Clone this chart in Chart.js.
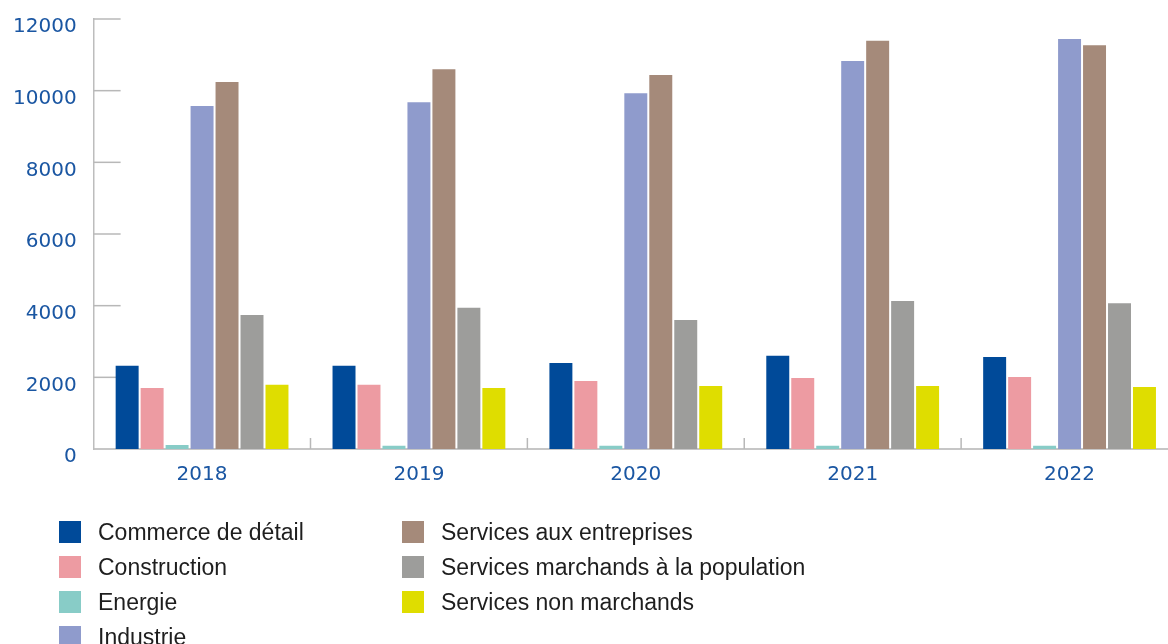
<!DOCTYPE html>
<html>
<head>
<meta charset="utf-8">
<script src="https://cdn.jsdelivr.net/npm/chart.js@4/dist/chart.umd.min.js"></script>
<style>
  html, body { margin: 0; padding: 0; background: #fff; overflow: hidden; }
  #wrap { position: relative; width: 1168px; height: 644px; overflow: hidden; }
  #chart { position: absolute; left: -4px; top: -10px; }
  #legend { position: absolute; left: 0; top: 0; font-family: "Liberation Sans", Arial, sans-serif; font-size: 23px; color: #1e1e1e; }
  .item { position: absolute; display: flex; align-items: center; height: 22px; white-space: nowrap; }
  .box { width: 22px; height: 22px; margin-right: 17px; }
</style>
</head>
<body>
<div id="wrap">
  <canvas id="chart" width="1182" height="654"></canvas>
  <div id="legend"></div>
</div>
<script>
const years = ["2018", "2019", "2020", "2021", "2022"];
const seriesNames = ["Commerce de détail", "Construction", "Energie", "Industrie",
  "Services aux entreprises", "Services marchands à la population", "Services non marchands"];
const commerce = [2320, 2320, 2400, 2600, 2570];
const construction = [1700, 1790, 1900, 1980, 2010];
const energie = [110, 90, 90, 90, 90];
const industrie = [9570, 9680, 9930, 10830, 11440];
const servEntreprises = [10240, 10600, 10440, 11390, 11270];
const servMarchands = [3740, 3940, 3600, 4130, 4070];
const nonMarchands = [1790, 1700, 1760, 1760, 1730];
const yTicks = [0, 2000, 4000, 6000, 8000, 10000, 12000];

const colors = ["#004a99", "#ed9ba2", "#88ccc7", "#8f9bcc", "#a58a7a", "#9d9d9b", "#dfdd00"];
const values = [commerce, construction, energie, industrie, servEntreprises, servMarchands, nonMarchands];
const blue = "#1a56a2";

// short grid stubs on the y axis + separators between years
const stubs = {
  id: "stubs",
  beforeDatasetsDraw(chart) {
    const { ctx, chartArea, scales: { x, y } } = chart;
    ctx.save();
    ctx.strokeStyle = "#b8b8b8";
    ctx.lineWidth = 1.5;
    yTicks.forEach(v => {
      if (v === 0) return;
      const py = y.getPixelForValue(v);
      ctx.beginPath();
      ctx.moveTo(chartArea.left, py);
      ctx.lineTo(chartArea.left + 27, py);
      ctx.stroke();
    });
    const w = x.width / years.length;
    for (let i = 1; i <= years.length; i++) {
      const px = x.left + i * w;
      ctx.beginPath();
      ctx.moveTo(px, chartArea.bottom);
      ctx.lineTo(px, chartArea.bottom - 11);
      ctx.stroke();
    }
    ctx.restore();
  }
};

new Chart(document.getElementById("chart"), {
  type: "bar",
  data: {
    labels: years,
    datasets: seriesNames.map((name, i) => ({
      label: name,
      data: values[i],
      backgroundColor: colors[i],
      barPercentage: 0.92,
      categoryPercentage: 0.806
    }))
  },
  options: {
    responsive: false,
    animation: false,
    layout: { padding: { left: 0, top: 9, right: 0, bottom: 143 } },
    plugins: { legend: { display: false }, tooltip: { enabled: false } },
    scales: {
      x: {
        grid: { display: false, drawTicks: false },
        border: { color: "#c6c6c6", width: 2 },
        ticks: { color: blue, padding: 14, font: { family: "DejaVu Sans", size: 20 } }
      },
      y: {
        min: 0,
        max: 12000,
        grid: { display: false, drawTicks: false },
        border: { color: "#bdbdbd", width: 1.5 },
        afterBuildTicks(scale) { scale.ticks = yTicks.map(v => ({ value: v })); },
        ticks: {
          color: blue, padding: 17, labelOffset: 8,
          font: { family: "DejaVu Sans", size: 20 },
          callback: v => String(v)
        }
      }
    }
  },
  plugins: [stubs]
});

// legend in two columns
const legend = document.getElementById("legend");
seriesNames.forEach((name, i) => {
  const col = i < 4 ? 0 : 1;
  const row = i < 4 ? i : i - 4;
  const el = document.createElement("div");
  el.className = "item";
  el.style.left = (col === 0 ? 59 : 402) + "px";
  el.style.top = (521 + row * 35) + "px";
  el.innerHTML = '<span class="box" style="background:' + colors[i] + '"></span><span>' + name + '</span>';
  legend.appendChild(el);
});
</script>
</body>
</html>
